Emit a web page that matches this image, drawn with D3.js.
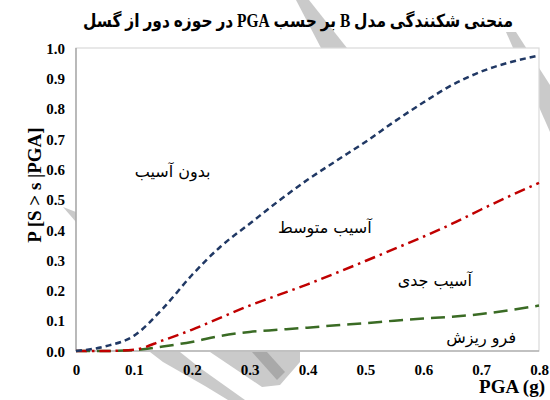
<!DOCTYPE html>
<html><head><meta charset="utf-8">
<script src="https://cdn.jsdelivr.net/npm/d3@7"></script>
<style>body{margin:0;background:#fff}svg{display:block}</style>
</head><body>
<svg id="c" width="550" height="400"></svg>
<script>
const pga = [0,0.05,0.1,0.15,0.2,0.25,0.3,0.35,0.4,0.45,0.5,0.55,0.6,0.65,0.7,0.75,0.8];
const slight = [0,0.015,0.05,0.14,0.25,0.345,0.42,0.495,0.565,0.628,0.69,0.757,0.82,0.878,0.922,0.953,0.975];
const extensive = [0,0,0.004,0.035,0.07,0.11,0.15,0.185,0.22,0.258,0.297,0.337,0.377,0.42,0.467,0.512,0.555];
const collapse = [0,0,0.003,0.015,0.03,0.05,0.063,0.07,0.077,0.085,0.092,0.1,0.107,0.113,0.122,0.135,0.15];
const xTicks = [0,0.1,0.2,0.3,0.4,0.5,0.6,0.7,0.8];
const xTickLabels = ["0","0.1","0.2","0.3","0.4","0.5","0.6","0.7","0.8"];
const yTicks = [0,0.1,0.2,0.3,0.4,0.5,0.6,0.7,0.8,0.9,1.0];
const yTickLabels = ["0.0","0.1","0.2","0.3","0.4","0.5","0.6","0.7","0.8","0.9","1.0"];
const stateLabels = [
  {text:"بدون آسیب", x:0.167, y:0.575},
  {text:"آسیب متوسط", x:0.43, y:0.39},
  {text:"آسیب جدی", x:0.62, y:0.215},
  {text:"فرو ریزش", x:0.7, y:0.025}
];
const titleText = "منحنی شکنندگی مدل B بر حسب PGA در حوزه دور از گسل";

const svg = d3.select("#c");
const L=76, R=539, T=48, B=351;
const x = d3.scaleLinear().domain([0,0.8]).range([L,R]);
const y = d3.scaleLinear().domain([0,1]).range([B,T]);

// light grey watermark shapes seen outside the plot area
const wm = svg.append("g").attr("fill","#cacaca");
wm.append("polygon").attr("points","296,0 309,0 347,48 321,48");
wm.append("polygon").attr("points","506,32 516,32 550,85 550,132");
wm.append("polygon").attr("points","150,352 180,352 200,368 245,400 228,400 205,386 163,362");
wm.append("polygon").attr("points","210,352 300,352 300,362 280,385 262,387");
wm.append("polygon").attr("points","252,352 267,352 285,372 277,380").attr("fill","#a9a9a9");
wm.append("polygon").attr("points","63,207 76,212 76,222");

// plot background
svg.append("rect").attr("x",L).attr("y",T).attr("width",R-L).attr("height",B-T)
  .attr("fill","#fff").attr("stroke","#d9d9d9").attr("stroke-width",1.2);
svg.append("line").attr("x1",L).attr("x2",L).attr("y1",T).attr("y2",B).attr("stroke","#9a9a9a").attr("stroke-width",1.2);
svg.append("line").attr("x1",L).attr("x2",R).attr("y1",B).attr("y2",B).attr("stroke","#9a9a9a").attr("stroke-width",1.2);

const fontLat = "'Liberation Serif','Times New Roman',serif";
const fontFa = "'DejaVu Sans','Noto Sans',sans-serif";

const xAxis = d3.axisBottom(x).tickValues(xTicks).tickSize(0).tickPadding(0)
  .tickFormat((d,i)=>xTickLabels[i]);
const gx = svg.append("g").attr("transform",`translate(0,${B})`).call(xAxis);
gx.attr("font-family",null).attr("font-size",null);
gx.select(".domain").remove();
gx.selectAll("text").attr("dy",null).attr("y",24)
  .style("font-family",fontLat).style("font-weight","bold").style("font-size","15px").attr("fill","#000");

const yAxis = d3.axisLeft(y).tickValues(yTicks).tickSize(0).tickPadding(0)
  .tickFormat((d,i)=>yTickLabels[i]);
const gy = svg.append("g").attr("transform",`translate(${L},0)`).call(yAxis);
gy.attr("font-family",null).attr("font-size",null);
gy.select(".domain").remove();
gy.selectAll("text").attr("x",-11).attr("dy","0.35em")
  .style("font-family",fontLat).style("font-weight","bold").style("font-size","15px").attr("fill","#000");

const line = d3.line().x((d,i)=>x(pga[i])).y(d=>y(d)).curve(d3.curveMonotoneX);
const series = [
  {v:collapse, c:"#3a6b24", dash:"14,7"},
  {v:extensive, c:"#c00000", dash:"11,5,2.5,5"},
  {v:slight, c:"#203864", dash:"6,4"}
];
series.forEach(s=>{
  svg.append("path").attr("d",line(s.v)).attr("fill","none").attr("stroke",s.c)
    .attr("stroke-width",2.5).attr("stroke-dasharray",s.dash);
});

svg.selectAll("text.state").data(stateLabels).enter().append("text").attr("class","state")
  .attr("x",d=>x(d.x)).attr("y",d=>y(d.y)).attr("text-anchor","middle").attr("direction","rtl")
  .style("font-family",fontFa).style("font-size","16px").attr("fill","#000").text(d=>d.text);

svg.append("text").attr("x",298).attr("y",27).attr("text-anchor","middle").attr("direction","rtl")
  .attr("textLength",430).attr("lengthAdjust","spacingAndGlyphs")
  .style("font-family",fontLat+","+fontFa).style("font-weight","bold").style("font-size","18px")
  .attr("fill","#000").text(titleText);

svg.append("text").attr("x",545).attr("y",393).attr("text-anchor","end")
  .style("font-family",fontLat).style("font-weight","bold").style("font-size","19px").attr("fill","#000")
  .text("PGA (g)");

svg.append("text").attr("transform","translate(41,185) rotate(-90)").attr("text-anchor","middle")
  .style("font-family",fontLat).style("font-weight","bold").style("font-size","19px").attr("fill","#000")
  .text("P [S > s |PGA]");
</script>
</body></html>
